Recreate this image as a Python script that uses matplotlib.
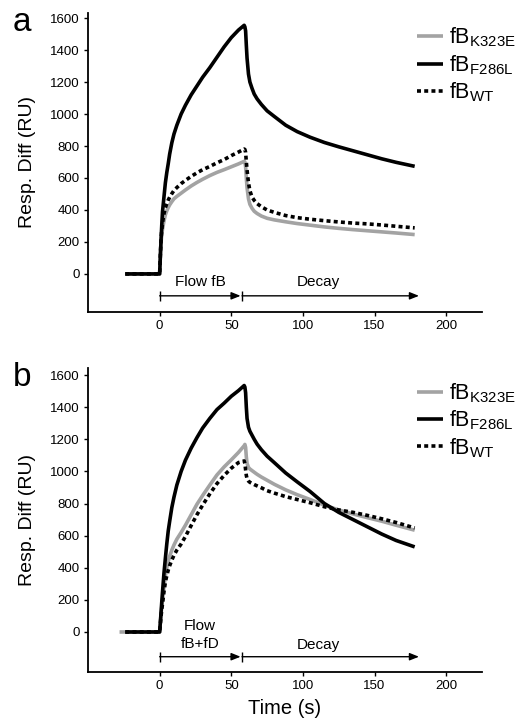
import numpy as np
import matplotlib
matplotlib.use("Agg")
import matplotlib.pyplot as plt

plt.rcParams['font.family'] = ['Liberation Sans', 'DejaVu Sans']
plt.rcParams['mathtext.default'] = 'regular'

# ---------------- data ----------------
time_a = [-24, 0, 0.5, 1, 1.5, 2, 3, 4, 5, 6, 7, 8.5, 10, 12, 15, 18, 22, 26, 30, 35, 40, 45, 50, 55, 59,
          59.5, 60, 60.5, 61, 62, 63, 64.5, 66, 68, 71, 75, 80, 88, 96, 105, 115, 125, 135, 145, 155, 165, 178]
a_k323e = [0, 0, 120, 200, 245, 280, 330, 370, 395, 415, 432, 452, 470, 485, 505, 525, 550, 572, 592, 615, 635, 652, 670, 688, 704,
           700, 670, 600, 540, 470, 435, 410, 392, 378, 362, 348, 338, 326, 315, 305, 294, 285, 277, 270, 263, 256, 246]
a_f286l = [0, 0, 110, 220, 310, 390, 480, 570, 635, 690, 750, 820, 875, 930, 1000, 1055, 1120, 1175, 1230, 1290, 1355, 1420, 1478, 1525, 1555,
           1545, 1520, 1430, 1350, 1250, 1200, 1160, 1125, 1095, 1060, 1020, 985, 930, 890, 855, 822, 795, 770, 745, 720, 698, 673]
a_wt    = [0, 0, 120, 220, 275, 320, 375, 415, 440, 462, 480, 502, 522, 540, 565, 585, 610, 632, 652, 672, 695, 715, 740, 762, 781,
           778, 760, 700, 650, 570, 520, 480, 460, 440, 420, 400, 385, 365, 352, 342, 333, 325, 318, 313, 306, 298, 288]

time_b = [-28, -24, 0, 0.5, 1, 1.5, 2, 3, 4, 5, 6, 7, 8.5, 10, 12, 15, 18, 22, 26, 30, 35, 40, 45, 50, 55, 59,
          59.5, 60, 60.5, 61, 62, 63, 64.5, 66, 68, 71, 75, 80, 88, 96, 105, 115, 125, 135, 145, 155, 165, 178]
b_k323e = [0, 0, 0, 60, 115, 160, 200, 280, 350, 400, 440, 472, 510, 542, 578, 620, 665, 730, 795, 850, 915, 978, 1028, 1072, 1118, 1160,
           1168, 1150, 1090, 1050, 1025, 1015, 1005, 995, 982, 965, 945, 920, 885, 855, 825, 790, 760, 735, 712, 690, 665, 634]
b_f286l = [np.nan, 0, 0, 60, 125, 190, 250, 365, 460, 550, 630, 690, 775, 840, 915, 1000, 1070, 1145, 1210, 1270, 1330, 1385, 1425, 1468, 1503, 1535,
           1525, 1490, 1400, 1330, 1275, 1250, 1225, 1200, 1170, 1135, 1095, 1055, 990, 935, 875, 800, 745, 700, 655, 610, 570, 530]
b_wt    = [np.nan, 0, 0, 50, 100, 140, 175, 250, 310, 352, 385, 413, 448, 478, 510, 548, 595, 663, 730, 790, 860, 924, 975, 1020, 1055, 1065,
           1050, 1010, 975, 955, 940, 932, 925, 918, 910, 898, 880, 865, 843, 825, 805, 780, 760, 745, 726, 705, 682, 648]

series_labels = ['fB$_{K323E}$', 'fB$_{F286L}$', 'fB$_{WT}$']
x_ticks = [0, 50, 100, 150, 200]
y_ticks = [0, 200, 400, 600, 800, 1000, 1200, 1400, 1600]

phase_a = ['Flow fB', 'Decay']
phase_b = ['Flow\nfB+fD', 'Decay']
phase_start = [0, 57.5]
phase_end = [56.5, 181]

# ---------------- figure ----------------
fig = plt.figure(figsize=(5.22, 7.21), dpi=100)
ax_a = fig.add_axes([0.1686, 0.5673, 0.7548, 0.4147])
ax_b = fig.add_axes([0.1686, 0.068, 0.7548, 0.4216])

GRAY = '#a3a3a3'
styles = [dict(color=GRAY, lw=2.6, solid_capstyle='butt', solid_joinstyle='round'),
          dict(color='black', lw=2.6, solid_capstyle='butt', solid_joinstyle='round'),
          dict(color='black', lw=2.6, linestyle=(0, (1.1, 0.9)), dash_capstyle='butt')]


def draw(ax, t, ys, phases, ylim, text_y, arrow_y, letter):
    for y, lab, st in zip(ys, series_labels, styles):
        ax.plot(t, y, label=lab, **st)
    ax.set_xlim(-50, 225)
    ax.set_ylim(*ylim)
    ax.set_xticks(x_ticks)
    ax.set_yticks(y_ticks)
    ax.tick_params(labelsize=9.5, length=3, width=1, direction='out', pad=3)
    for s in ['top', 'right']:
        ax.spines[s].set_visible(False)
    for s in ['left', 'bottom']:
        ax.spines[s].set_linewidth(1.3)
    ax.set_ylabel('Resp. Diff (RU)', fontsize=14, labelpad=10)
    for s0, s1, lab, ty in zip(phase_start, phase_end, phases, text_y):
        ax.annotate('', xy=(s1, arrow_y), xytext=(s0, arrow_y),
                    arrowprops=dict(arrowstyle='-|>,head_length=0.55,head_width=0.22',
                                    color='black', lw=1.0, shrinkA=0, shrinkB=0))
        ax.plot([s0], [arrow_y], marker='|', markersize=7, color='black', mew=1.0)
        ax.text((s0 + s1) / 2 if lab != 'Decay' else 111, ty, lab, ha='center', va='center',
                fontsize=11, linespacing=1.3)
    ax.legend(loc='upper left', bbox_to_anchor=(0.835, 0.957), frameon=False,
              fontsize=15.5, handlelength=1.2, handletextpad=0.3, labelspacing=0.18,
              borderaxespad=0, borderpad=0)
    fig.text(0.024, ax.get_position().y1 + 0.008, letter, fontsize=24, va='top', ha='left')


draw(ax_a, time_a, [a_k323e, a_f286l, a_wt], phase_a, (-238, 1632), [-50, -50], -137, 'a')
draw(ax_b, time_b, [b_k323e, b_f286l, b_wt], phase_b, (-249, 1644), [-19, -80], -154, 'b')
ax_b.set_xlabel('Time (s)', fontsize=14.5, labelpad=5)

fig.savefig('out.png', dpi=100)
